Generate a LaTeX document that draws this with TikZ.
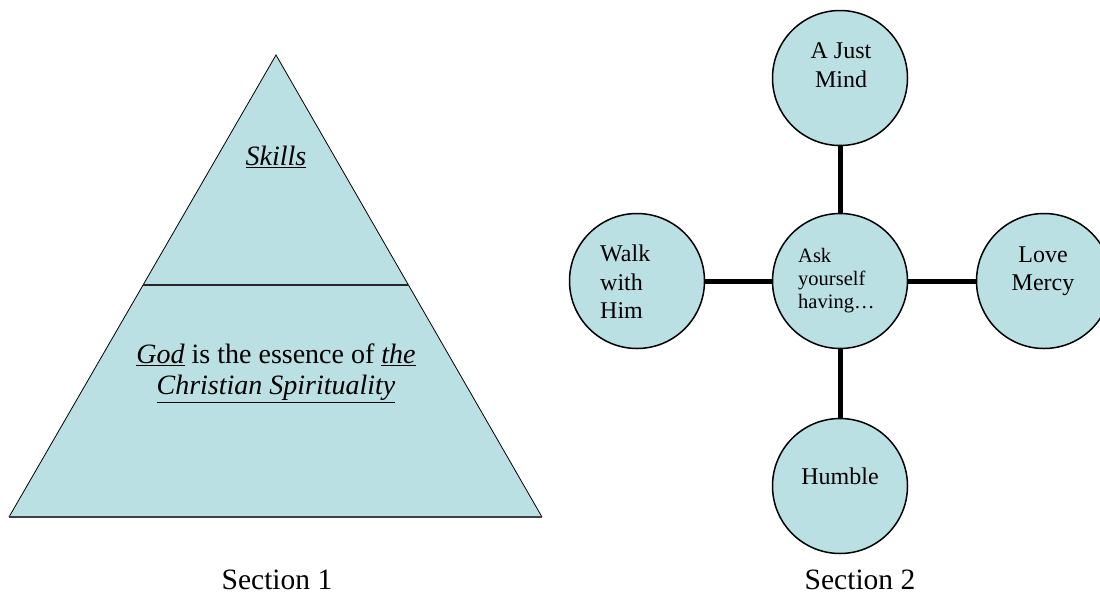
\documentclass[tikz,border=0pt]{standalone}
\usepackage{fontspec}
\setmainfont{Liberation Serif}
\usetikzlibrary{calc}
\definecolor{fillc}{RGB}{187,224,227}
\begin{document}
\begin{tikzpicture}[x=1pt,y=-1pt,
  circ/.style={circle, draw=black, line width=1.5pt, fill=fillc, minimum size=135pt, inner sep=0pt},
  link/.style={line width=5pt},
  big/.style={font=\fontsize{28}{31}\selectfont, align=center, inner sep=0pt},
  sect/.style={font=\fontsize{29.5}{34}\selectfont, inner sep=0pt},
  ctext/.style={font=\fontsize{24}{28.5}\selectfont, inner sep=0pt},
  stext/.style={font=\fontsize{20.5}{23}\selectfont, inner sep=0pt},
]
\useasboundingbox (0,0) rectangle (1100,598);
% pyramid
\coordinate (apex) at (276,55);
\coordinate (bl) at (9,517);
\coordinate (br) at (542,517);
\coordinate (dl) at ($(apex)!0.4978!(bl)$);
\coordinate (dr) at ($(apex)!0.4978!(br)$);
\fill[fillc] (apex) -- (bl) -- (br) -- cycle;
\draw[line width=0.8pt] (bl) -- (apex) -- (br);
\draw[line width=2pt, black!75] (bl) -- (br);
\draw[line width=2pt, black!85] (dl) -- (dr);
\node[big] (skills) at (276,157) {\underline{\textit{Skills}}};
\node[big] (god) at (276,373) {\underline{\textit{God}} is the essence of \underline{\textit{the}}\\ \underline{\textit{Christian Spirituality}}};
\node[sect] (s1) at (277,580) {Section 1};
% circles
\node[circ] (top) at (840,78) {};
\node[circ] (mid) at (840,281) {};
\node[circ] (left) at (637,281) {};
\node[circ] (right) at (1044,281) {};
\node[circ] (bot) at (840,486) {};
\draw[link] (top.south) -- (mid.north);
\draw[link] (mid.south) -- (bot.north);
\draw[link] (left.east) -- (mid.west);
\draw[link] (mid.east) -- (right.west);
\node[ctext, align=center] (tjust) at (841,65) {A Just\\Mind};
\node[ctext, align=left, anchor=west] (twalk) at (600,282) {Walk\\with\\Him};
\node[stext, align=left, anchor=west] (task) at (798,281) {Ask\\yourself\\having…};
\node[ctext, align=center] (tlove) at (1043,271) {Love\\Mercy};
\node[ctext] (thumble) at (840,476) {Humble};
\node[sect] (s2) at (860,580) {Section 2};
\end{tikzpicture}
\end{document}
